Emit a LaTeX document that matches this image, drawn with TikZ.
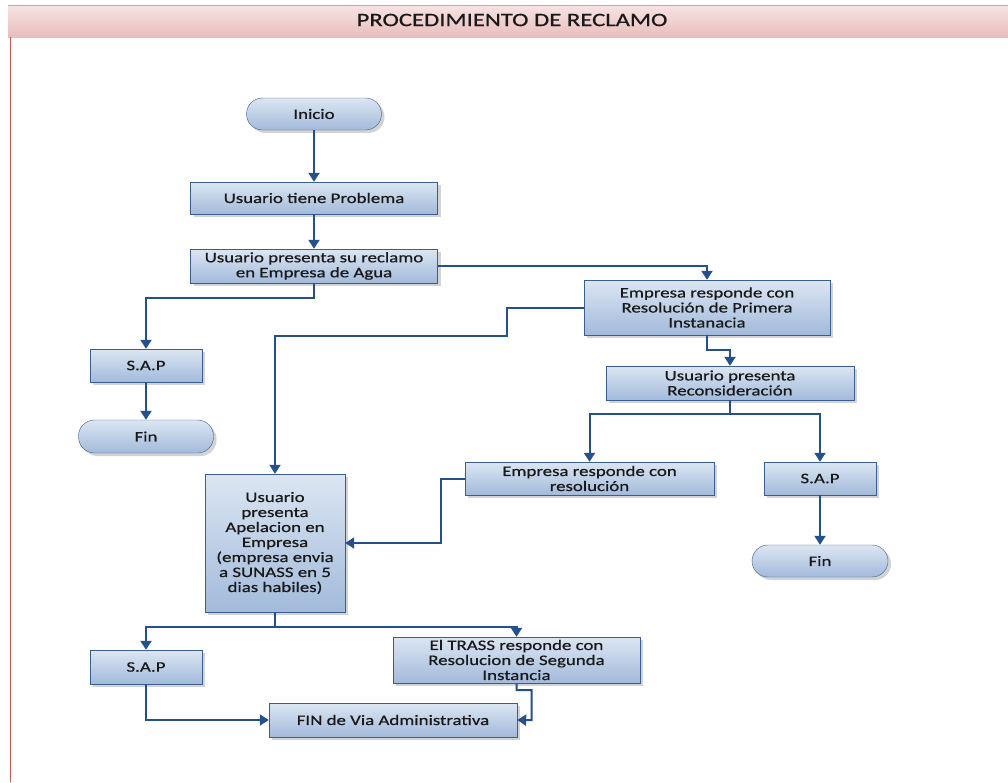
\documentclass[tikz,border=0pt]{standalone}
\usepackage{fontspec}
\setmainfont[FakeStretch=1.3,FakeBold=0.6]{Carlito}
\usetikzlibrary{arrows.meta,shadows}

\definecolor{boxtop}{HTML}{DCE6F2}
\definecolor{boxbot}{HTML}{A2BADB}
\definecolor{boxline}{HTML}{3A5F8F}
\definecolor{linkblue}{HTML}{24508C}
\definecolor{titletop}{HTML}{F7E4E3}
\definecolor{titlebot}{HTML}{E8BDBC}
\definecolor{framered}{HTML}{D9534F}

\begin{document}
\begin{tikzpicture}[x=1pt,y=-1pt,
    proc/.style={draw=boxline, thin, top color=boxtop, bottom color=boxbot,
        drop shadow={opacity=0.35, shadow xshift=3pt, shadow yshift=-3pt},
        align=center, inner sep=2pt, text=black!90,
        font=\fontsize{14.5}{15}\selectfont},
    term/.style={proc, rounded corners=16pt},
    link/.style={draw=linkblue, line width=2pt, -{Triangle[width=11pt,length=9pt]}}]
    \useasboundingbox (0,0) rectangle (1008,782);

    % Title bar and page frame
    \fill[top color=titletop, bottom color=titlebot] (8,5) rectangle (1008,37);
    \draw[framered!60] (8,5) -- (1008,5);
    \draw[framered] (10,37) -- (10,782);
    \node[font=\fontsize{19}{20}\selectfont, text=black!90] (titulo) at (512,20) {PROCEDIMIENTO DE RECLAMO};

    % Main column
    \node[term, minimum width=135, minimum height=32] (inicio) at (314,114) {Inicio};
    \node[proc, minimum width=247, minimum height=32] (problema) at (314,198) {Usuario tiene Problema};
    \node[proc, minimum width=247, minimum height=34] (reclamo) at (314,266) {Usuario presenta su reclamo\\en Empresa de Agua};

    % First answer branch
    \node[proc, minimum width=246, minimum height=55] (primera) at (707,307.5) {Empresa responde con\\Resolución de Primera\\Instanacia};
    \node[proc, minimum width=248, minimum height=34] (recons) at (730,383) {Usuario presenta\\Reconsideración};
    \node[proc, minimum width=249, minimum height=33] (resol) at (589.5,478.5) {Empresa responde con\\resolución};
    \node[proc, minimum width=112, minimum height=33] (sapB) at (820,478.5) {S.A.P};
    \node[term, minimum width=136, minimum height=32] (finB) at (820,561) {Fin};

    % Left branch
    \node[proc, minimum width=112, minimum height=33] (sapA) at (146,365.5) {S.A.P};
    \node[term, minimum width=135, minimum height=33] (finA) at (146,436.5) {Fin};

    % Appeal and second instance
    \node[proc, minimum width=140, minimum height=138] (apela) at (275,543) {Usuario\\presenta\\Apelacion en\\Empresa\\(empresa envia\\a SUNASS en 5\\dias habiles)};
    \node[proc, minimum width=112, minimum height=34] (sapC) at (146,667) {S.A.P};
    \node[proc, minimum width=247, minimum height=46] (trass) at (516.5,660) {El TRASS responde con\\Resolucion de Segunda\\Instancia};
    \node[proc, minimum width=248, minimum height=34] (finvia) at (393,720) {FIN de Via Administrativa};

    % Connectors
    \draw[link] (inicio) -- (problema);
    \draw[link] (problema) -- (reclamo);
    \draw[link] (reclamo.east) -| (primera.north);
    \draw[link] (reclamo.south) -- ++(0,15) -| (sapA.north);
    \draw[link] (sapA) -- (finA);
    \draw[link] (primera.south) -- ++(0,15) -| (recons.north);
    \draw[link] (primera.west) -| ++(-77,28) -| (apela.north);
    \draw[link] (recons.south) -- ++(0,14) coordinate (rsplit) -| (resol.north);
    \draw[link] (rsplit) -| (sapB.north);
    \draw[link] (sapB) -- (finB);
    \draw[link] (resol.west) -- ++(-24,0) |- (apela.east);
    \draw[link] (apela.south) -- ++(0,15) coordinate (asplit) -| (sapC.north);
    \draw[link] (asplit) -| (trass.north);
    \draw[link] (sapC.south) |- (finvia.west);
    \draw[link] (trass.south) -- ++(0,7) -| ++(15,30) -- (finvia.east);
\end{tikzpicture}
\end{document}
